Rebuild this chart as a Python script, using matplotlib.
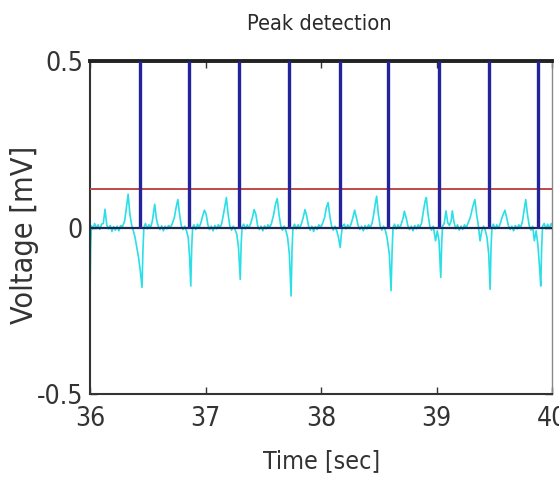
import matplotlib
matplotlib.use("Agg")
import matplotlib.pyplot as plt
from matplotlib import font_manager as fm

# the reference uses a tall, narrow font -> take a condensed face if one is installed
narrow = [f for f in fm.fontManager.ttflist
          if f.style == "normal" and f.weight in (400, "normal", "regular", "book")
          and (f.stretch in ("condensed", "semi-condensed", "extra-condensed")
               or "Narrow" in f.name or "Condensed" in f.name)]
if narrow:
    plt.rcParams["font.family"] = [narrow[0].name, "Liberation Sans"]
    plt.rcParams["font.stretch"] = narrow[0].stretch
    fs = 1.12
else:
    plt.rcParams["font.family"] = ["Liberation Sans", "DejaVu Sans"]
    fs = 1.0

# ECG-like trace (time in s, voltage in mV)
time_s = [
    36.000, 36.006, 36.012, 36.025, 36.040, 36.055, 36.070, 36.085, 36.100, 36.115,
    36.130, 36.145, 36.160, 36.175, 36.190, 36.205, 36.220, 36.235, 36.250, 36.265,
    36.280, 36.300, 36.315, 36.330, 36.345, 36.360, 36.375, 36.390, 36.405, 36.420,
    36.435, 36.450, 36.458, 36.466, 36.480, 36.495, 36.510, 36.525, 36.540, 36.560,
    36.575, 36.590, 36.605, 36.620, 36.635, 36.650, 36.665, 36.680, 36.695, 36.710,
    36.730, 36.745, 36.760, 36.775, 36.790, 36.805, 36.820, 36.835, 36.850, 36.862,
    36.872, 36.880, 36.888, 36.900, 36.915, 36.930, 36.945, 36.960, 36.975, 36.990,
    37.005, 37.020, 37.035, 37.050, 37.065, 37.080, 37.095, 37.110, 37.125, 37.140,
    37.155, 37.170, 37.180, 37.195, 37.210, 37.225, 37.240, 37.255, 37.270, 37.285,
    37.300, 37.308, 37.316, 37.330, 37.345, 37.360, 37.375, 37.390, 37.405, 37.420,
    37.435, 37.450, 37.465, 37.480, 37.495, 37.510, 37.525, 37.540, 37.555, 37.570,
    37.590, 37.605, 37.620, 37.635, 37.650, 37.665, 37.680, 37.695, 37.710, 37.725,
    37.740, 37.748, 37.756, 37.770, 37.785, 37.800, 37.815, 37.830, 37.845, 37.860,
    37.875, 37.890, 37.905, 37.920, 37.935, 37.950, 37.965, 37.980, 37.995, 38.010,
    38.030, 38.045, 38.060, 38.075, 38.090, 38.105, 38.120, 38.135, 38.150, 38.165,
    38.175, 38.185, 38.200, 38.215, 38.230, 38.245, 38.260, 38.275, 38.290, 38.305,
    38.320, 38.335, 38.350, 38.365, 38.380, 38.395, 38.410, 38.425, 38.440, 38.455,
    38.470, 38.480, 38.495, 38.510, 38.525, 38.540, 38.555, 38.570, 38.590, 38.605,
    38.614, 38.622, 38.635, 38.650, 38.665, 38.680, 38.695, 38.710, 38.720, 38.735,
    38.750, 38.765, 38.780, 38.795, 38.810, 38.825, 38.840, 38.855, 38.870, 38.885,
    38.900, 38.910, 38.925, 38.940, 38.955, 38.970, 38.990, 39.005, 39.020, 39.035,
    39.043, 39.050, 39.065, 39.080, 39.095, 39.110, 39.125, 39.135, 39.150, 39.165,
    39.180, 39.195, 39.210, 39.225, 39.240, 39.255, 39.270, 39.290, 39.310, 39.330,
    39.345, 39.360, 39.375, 39.390, 39.405, 39.420, 39.435, 39.450, 39.462, 39.470,
    39.478, 39.490, 39.505, 39.520, 39.535, 39.550, 39.565, 39.590, 39.605, 39.620,
    39.635, 39.650, 39.665, 39.680, 39.695, 39.710, 39.725, 39.740, 39.755, 39.770,
    39.785, 39.800, 39.815, 39.830, 39.845, 39.860, 39.875, 39.890, 39.900, 39.908,
    39.916, 39.930, 39.945, 39.960, 39.975, 39.990, 40.000,
]
voltage_mv = [
    -0.210, -0.060, 0.005, -0.004, 0.012, -0.002, 0.008, -0.006, 0.010, 0.012,
    0.055, 0.008, -0.004, 0.006, -0.012, 0.003, -0.008, 0.004, -0.010, 0.006,
    0.002, 0.020, 0.060, 0.100, 0.040, 0.008, -0.010, -0.030, -0.060, -0.090,
    -0.130, -0.180, -0.070, 0.000, 0.012, -0.004, 0.008, 0.000, 0.020, 0.070,
    0.025, 0.004, -0.006, 0.005, -0.010, 0.004, -0.004, 0.006, 0.000, 0.010,
    0.030, 0.060, 0.084, 0.040, 0.005, -0.006, 0.004, -0.010, -0.030, -0.090,
    -0.176, -0.060, 0.000, 0.008, -0.006, 0.010, 0.000, 0.015, 0.035, 0.052,
    0.040, 0.008, -0.006, 0.004, -0.010, 0.006, -0.004, 0.008, 0.000, 0.012,
    0.040, 0.070, 0.090, 0.040, 0.005, -0.008, 0.004, -0.006, -0.020, -0.060,
    -0.156, -0.050, 0.002, 0.010, -0.004, 0.008, -0.002, 0.012, 0.030, 0.054,
    0.040, 0.006, -0.006, 0.004, -0.010, 0.005, -0.004, 0.008, 0.000, 0.012,
    0.040, 0.070, 0.087, 0.040, 0.006, -0.008, 0.004, -0.010, -0.030, -0.080,
    -0.206, -0.070, 0.000, 0.010, -0.004, 0.008, -0.002, 0.012, 0.030, 0.054,
    0.035, 0.006, -0.008, 0.004, -0.012, 0.003, -0.006, 0.008, 0.000, 0.010,
    0.030, 0.060, 0.075, 0.035, 0.005, -0.008, 0.004, -0.010, -0.030, -0.060,
    -0.020, 0.004, 0.010, -0.004, 0.008, -0.002, 0.012, 0.030, 0.052, 0.030,
    0.006, -0.006, 0.004, -0.010, 0.006, -0.004, 0.008, 0.000, 0.012, 0.040,
    0.075, 0.094, 0.040, 0.005, -0.008, 0.004, -0.008, -0.030, -0.080, -0.190,
    -0.070, 0.000, 0.010, -0.004, 0.008, -0.002, 0.012, 0.030, 0.049, 0.030,
    0.006, -0.006, 0.004, -0.010, 0.006, -0.004, 0.008, 0.000, 0.015, 0.050,
    0.080, 0.090, 0.040, 0.005, -0.008, 0.004, -0.040, -0.010, -0.040, -0.150,
    -0.050, 0.004, 0.012, 0.050, 0.015, 0.006, 0.020, 0.050, 0.015, -0.004,
    0.008, -0.008, 0.004, -0.006, 0.008, 0.000, 0.012, 0.030, 0.060, 0.084,
    0.040, 0.006, -0.040, -0.010, 0.004, -0.008, -0.030, -0.080, -0.186, -0.060,
    0.000, 0.010, -0.004, 0.008, -0.002, 0.012, 0.030, 0.052, 0.030, 0.006,
    -0.006, 0.004, -0.010, 0.006, -0.004, 0.008, 0.000, 0.015, 0.050, 0.084,
    0.040, 0.006, -0.008, 0.004, -0.040, -0.010, -0.050, -0.120, -0.176, -0.060,
    0.004, 0.012, -0.004, 0.010, -0.002, 0.012, 0.005,
]

# detected peaks and threshold
peak_times = [36.43, 36.86, 37.29, 37.72, 38.16, 38.58, 39.02, 39.45, 39.88]
threshold = 0.117

fig = plt.figure(figsize=(5.59, 4.82), dpi=100)
ax = fig.add_axes([0.161, 0.183, 0.827, 0.690])

ax.plot(time_s, voltage_mv, color="#2adfe6", lw=1.2, zorder=2)
ax.axhline(0, color="#1c2850", lw=1.6, zorder=3)
ax.axhline(threshold, color="#c04848", lw=1.4, zorder=3)
ax.vlines(peak_times, 0, 0.5, color="#23239c", lw=2.4, zorder=4)

ax.set_xlim(36, 40)
ax.set_ylim(-0.5, 0.5)
ax.set_xticks([36, 37, 38, 39, 40])
ax.set_yticks([-0.5, 0, 0.5])
ax.set_yticklabels(["-0.5", "0", "0.5"])
ax.tick_params(direction="in", top=True, right=True, length=5, width=1,
               labelsize=17 * fs, colors="#333333")
ax.tick_params(axis="x", pad=9)
ax.tick_params(axis="y", pad=5)

for side in ["left", "bottom"]:
    ax.spines[side].set_linewidth(1.5)
    ax.spines[side].set_color("#333333")
ax.spines["top"].set_linewidth(2.8)
ax.spines["top"].set_color("#222222")
ax.spines["right"].set_linewidth(1.0)
ax.spines["right"].set_color("#888888")

ax.set_xlabel("Time [sec]", fontsize=16 * fs, color="#333333")
ax.xaxis.set_label_coords(0.5, -0.165)
ax.set_ylabel("Voltage [mV]", fontsize=19.5 * fs, color="#333333")
ax.yaxis.set_label_coords(-0.11, 0.477)
fig.text(0.572, 1 - 24 / 482, "Peak detection", ha="center", va="center",
         fontsize=14 * fs, color="#2a2a2a")

fig.savefig("out.png", dpi=100)
